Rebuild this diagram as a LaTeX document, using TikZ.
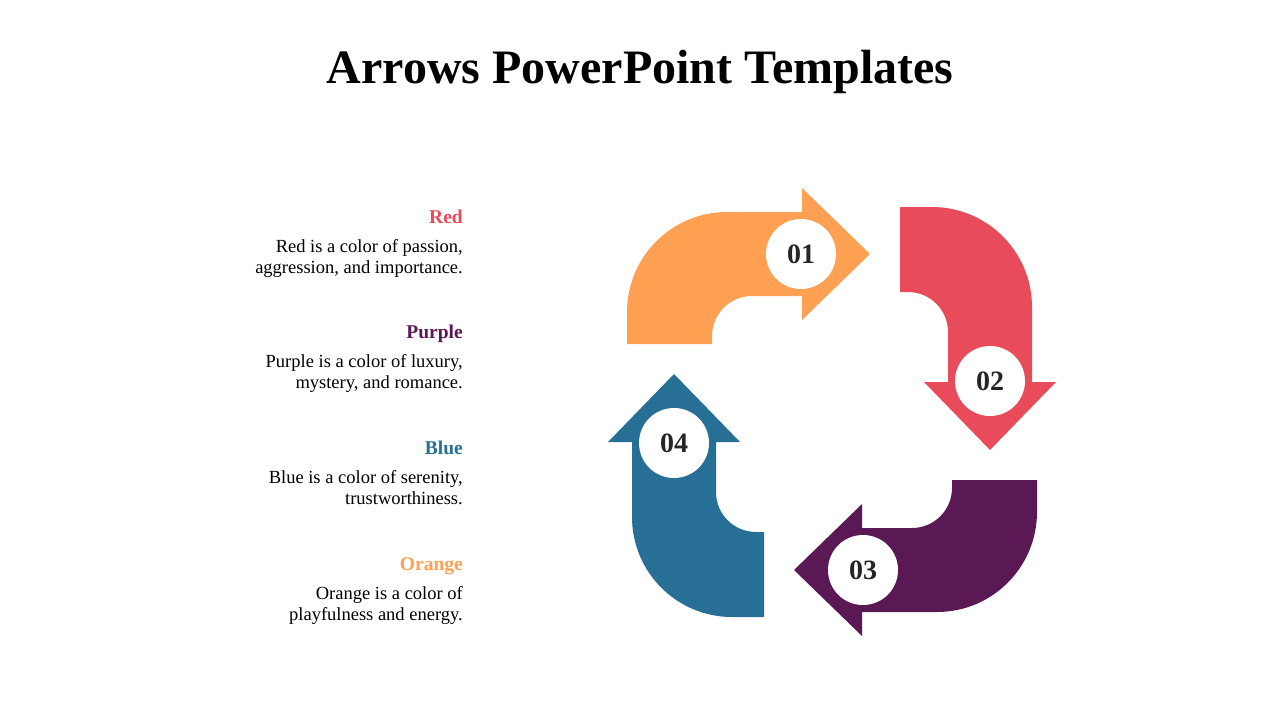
\documentclass[tikz,border=0pt]{standalone}
\usepackage{fontspec}
\setmainfont{Liberation Serif}
\usetikzlibrary{positioning}
\definecolor{naranja}{HTML}{FFA052}
\definecolor{rojo}{HTML}{E84C5A}
\definecolor{morado}{HTML}{5A1955}
\definecolor{azul}{HTML}{286F96}
\definecolor{gris}{HTML}{262626}
\tikzset{
	x=1pt, y=-1pt, % Coordenadas en pixeles, eje y hacia abajo
	numero/.style={circle, fill=white, minimum size=70pt, inner sep=0pt, text=gris, font=\bfseries\fontsize{28}{28}\selectfont}, % Circulos con numero
	cabecera/.style={anchor=base east, inner sep=0pt, font=\bfseries\fontsize{19.5}{20}\selectfont}, % Nombre del color
	texto/.style={align=right, inner sep=0pt, font=\fontsize{18.5}{21}\selectfont} % Descripcion
}
% Contorno de una flecha, relativo al centro del ciclo
\newcommand{\flecha}{(-205,-68) -- (-205,-100) arc[start angle=180, end angle=270, radius=100]
	-- (-30,-200) -- (-30,-224) -- (38,-158) -- (-30,-92) -- (-30,-116)
	-- (-80,-116) arc[start angle=270, end angle=180, radius=40] -- (-120,-68) -- cycle}

\begin{document}
\begin{tikzpicture}
	\useasboundingbox (0,0) rectangle (1280,720);
	\node[anchor=base, inner sep=0pt, font=\bfseries\fontsize{48}{48}\selectfont] (titulo) at (640,83) {Arrows PowerPoint Templates};
	\foreach \i/\ang/\col in {1/0/naranja, 2/-90/rojo, 3/-180/morado, 4/-270/azul}{
		\begin{scope}[shift={(832,412)}, rotate=\ang]
			\fill[\col] \flecha;
			\node[numero] (n\i) at (-31,-158) {0\i};
		\end{scope}
	}
	\node[cabecera, text=rojo] (rojoT) at (463,223) {Red};
	\node[texto, below=16pt of rojoT.base east, anchor=north east] (rojoD) {Red is a color of passion,\\aggression, and importance.};
	\node[cabecera, text=morado] (moradoT) at (463,338) {Purple};
	\node[texto, below=16pt of moradoT.base east, anchor=north east] (moradoD) {Purple is a color of luxury,\\mystery, and romance.};
	\node[cabecera, text=azul] (azulT) at (463,454) {Blue};
	\node[texto, below=16pt of azulT.base east, anchor=north east] (azulD) {Blue is a color of serenity,\\trustworthiness.};
	\node[cabecera, text=naranja] (naranjaT) at (463,570) {Orange};
	\node[texto, below=16pt of naranjaT.base east, anchor=north east] (naranjaD) {Orange is a color of\\playfulness and energy.};
\end{tikzpicture}
\end{document}
